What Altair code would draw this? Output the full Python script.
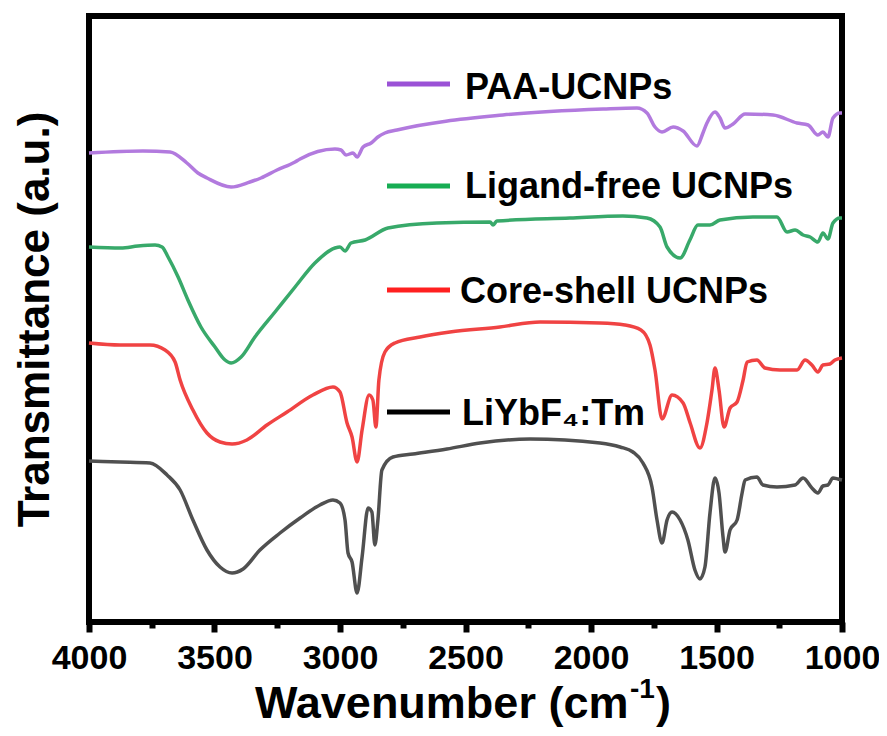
import altair as alt
import pandas as pd

# ---------------- data ----------------
series_names = ["PAA-UCNPs", "Ligand-free UCNPs", "Core-shell UCNPs", "LiYbF₄:Tm"]
line_colors = ["#b27ade", "#38a96a", "#f04343", "#505050"]
swatch_colors = ["#9b52d6", "#17ad53", "#ff2020", "#000000"]

paa_wn = [4000, 3785, 3677, 3610, 3566, 3530, 3434, 3359, 3315, 3251, 3179, 3159, 3020, 2996, 2976,
          2948, 2932, 2908, 2876, 2849, 2821, 2773, 2351, 1952, 1817, 1777, 1745, 1717, 1673, 1633,
          1578, 1554, 1538, 1506, 1486, 1466, 1434, 1386, 1275, 1179, 1135, 1096, 1076, 1056, 1036,
          1008, 1000]
paa_t = [469, 471, 470, 459, 449, 444, 435, 440, 444, 452, 460, 463, 473, 472, 467,
         469, 465, 475, 479, 485, 489, 492, 507, 513, 514, 509, 495, 490, 495, 491,
         476, 489, 499, 510, 504, 494, 498, 508, 507, 499, 497, 487, 490, 485, 504,
         509, 509]

lig_wn = [4000, 3873, 3805, 3737, 3709, 3685, 3645, 3606, 3554, 3498, 3458, 3434, 3394, 3339, 3259,
          3179, 3100, 3020, 3000, 2980, 2956, 2900, 2809, 2614, 2402, 2390, 2375, 2084, 1873, 1777,
          1725, 1697, 1645, 1606, 1574, 1526, 1486, 1355, 1259, 1219, 1187, 1155, 1127, 1096, 1076,
          1056, 1036, 1008, 1000]
lig_t = [375, 374, 376, 377, 375, 365, 345, 322, 295, 275, 262, 259, 265, 285, 310,
         335, 359, 374, 375, 371, 379, 382, 394, 399, 400, 397, 401, 404, 406, 404,
         395, 375, 364, 382, 397, 397, 402, 405, 405, 390, 392, 387, 385, 380, 389,
         383, 399, 404, 404]

core_wn = [4000, 3876, 3757, 3697, 3657, 3637, 3586, 3530, 3478, 3430, 3371, 3291, 3211, 3108, 3028,
           3000, 2972, 2952, 2932, 2912, 2884, 2869, 2857, 2845, 2821, 2781, 2681, 2562, 2363, 2203,
           1964, 1865, 1801, 1765, 1745, 1717, 1677, 1633, 1605, 1566, 1538, 1518, 1506, 1490, 1470,
           1446, 1418, 1394, 1378, 1339, 1307, 1247, 1179, 1147, 1120, 1096, 1076, 1048, 1028, 1000]
core_t = [279, 277, 277, 272, 260, 242, 212, 189, 180, 178, 182, 197, 210, 227, 235,
          230, 199, 185, 160, 192, 227, 222, 195, 242, 270, 279, 285, 290, 295, 300,
          299, 297, 292, 277, 252, 203, 227, 219, 199, 174, 199, 232, 254, 232, 195,
          214, 220, 242, 260, 262, 254, 252, 252, 262, 257, 250, 257, 258, 262, 264]

li_wn = [4000, 3876, 3757, 3689, 3637, 3586, 3530, 3478, 3430, 3386, 3319, 3239, 3159, 3080, 3028,
         3000, 2980, 2968, 2952, 2932, 2912, 2888, 2873, 2861, 2849, 2833, 2789, 2709, 2574, 2442,
         2243, 1964, 1884, 1833, 1793, 1757, 1737, 1717, 1697, 1677, 1645, 1614, 1586, 1566, 1546,
         1526, 1506, 1490, 1474, 1466, 1446, 1418, 1398, 1386, 1339, 1315, 1259, 1187, 1155, 1120,
         1096, 1076, 1056, 1036, 1016, 1000]
li_t = [161, 160, 159, 147, 132, 102, 72, 55, 49, 53, 72, 89, 104, 117, 122,
        119, 102, 69, 60, 29, 65, 114, 110, 77, 102, 152, 165, 168, 173, 179,
        183, 179, 175, 170, 159, 135, 102, 79, 102, 110, 102, 82, 52, 43, 55,
        109, 144, 129, 85, 70, 92, 102, 129, 142, 145, 137, 135, 137, 144, 134,
        129, 136, 137, 144, 143, 142]

x_ticks = [4000, 3750, 3500, 3250, 3000, 2750, 2500, 2250, 2000, 1750, 1500, 1250, 1000]
x_title_parts = ["Wavenumber (cm", "-1", ")"]
y_title = "Transmittance (a.u.)"

# ---------------- build table ----------------
rows = []
for name, wn, t in zip(series_names, [paa_wn, lig_wn, core_wn, li_wn], [paa_t, lig_t, core_t, li_t]):
    for i, (w, v) in enumerate(zip(wn, t)):
        rows.append({"series": name, "wn": w, "T": v, "i": i})
df = pd.DataFrame(rows)

FONT = "Liberation Sans, Arial, Helvetica, sans-serif"
W, H = 753, 606

xscale = alt.Scale(domain=[4000, 1000], nice=False, zero=False)
yscale = alt.Scale(domain=[0, 606], nice=False, zero=False)

lines = alt.Chart(df).mark_line(strokeWidth=3.5, interpolate="monotone").encode(
    x=alt.X("wn:Q", scale=xscale, axis=alt.Axis(
        values=x_ticks, format="d",
        labelExpr="datum.value % 500 === 0 ? datum.label : ''",
        tickSize={"condition": {"test": "datum.value % 500 === 0", "value": 10}, "value": 6},
        tickWidth=6, tickColor="black", domain=False, grid=False,
        labelFontSize=34, labelFont=FONT, labelFontWeight="bold", labelColor="black",
        labelPadding=9, labelFlush=False, labelOverlap=False, title=None)),
    y=alt.Y("T:Q", scale=yscale, axis=alt.Axis(
        labels=False, ticks=False, domain=False, grid=False,
        title=y_title, titleFontSize=44, titleFont=FONT, titleFontWeight="bold",
        titleColor="black", titlePadding=32)),
    color=alt.Color("series:N", scale=alt.Scale(domain=series_names, range=line_colors), legend=None),
    order=alt.Order("i:Q"),
)

layers = [lines]

# x-axis title with a real superscript
title_x = [166, 541, 567]
title_y = [702, 682, 702]
title_size = [45, 28, 45]
for txt, tx, ty, fs in zip(x_title_parts, title_x, title_y, title_size):
    td = pd.DataFrame({"label": [txt]})
    layers.append(alt.Chart(td).mark_text(
        align="left", baseline="alphabetic", font=FONT, fontSize=fs, fontWeight="bold",
        color="black").encode(x=alt.value(tx), y=alt.value(ty), text="label:N"))

# manual legend (swatch + label per series)
legend_y = [68, 170, 274, 396]          # swatch centre, px within plot
text_base = [83, 182, 287, 409]         # text baseline, px within plot
text_x = [376, 376, 371, 373]
for name, sc, ly, tb, tx in zip(series_names, swatch_colors, legend_y, text_base, text_x):
    ld = pd.DataFrame({"label": [name]})
    layers.append(alt.Chart(ld).mark_rule(color=sc, strokeWidth=5).encode(
        x=alt.value(298), x2=alt.value(361), y=alt.value(ly)))
    layers.append(alt.Chart(ld).mark_text(
        align="left", baseline="alphabetic", font=FONT, fontSize=36, fontWeight="bold",
        color="black").encode(x=alt.value(tx), y=alt.value(tb), text="label:N"))

chart = alt.layer(*layers).properties(
    width=W, height=H,
    autosize=alt.AutoSizeParams(type="none"),
    padding={"left": 81, "top": 8, "right": 37, "bottom": 106},
).configure_view(stroke="black", strokeWidth=6)

chart.save("out.html", embed_options={"renderer": "svg", "actions": False})
